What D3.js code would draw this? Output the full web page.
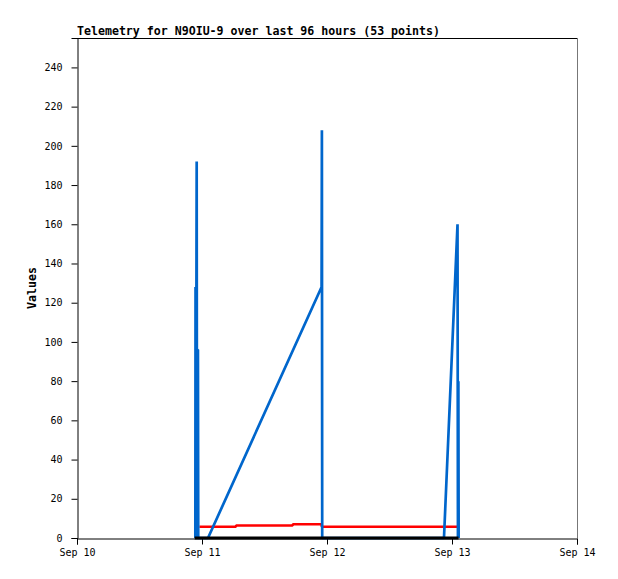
<!DOCTYPE html>
<html><head><meta charset="utf-8">
<script src="https://cdn.jsdelivr.net/npm/d3@7"></script>
<style>body{margin:0;background:#fff}svg{display:block}</style>
</head><body>
<script>
const title = "Telemetry for N9OIU-9 over last 96 hours (53 points)";
const yLabel = "Values";
const xTickLabels = ["Sep 10","Sep 11","Sep 12","Sep 13","Sep 14"];
const yTicks = [0,20,40,60,80,100,120,140,160,180,200,220,240];
// hours after Sep 10 00:00
const blueHours  = [22.72,22.76,22.82,22.98,23.04,23.10,23.22,23.28,23.34,25.15,46.96,47.02,47.08,70.46,73.06,73.14,73.22,73.28];
const blueValues = [0,    128,  0,    192,  0,    96,   96,   0,    0,    0,    128,  208,  0,    0,    160,  0,    80,   0];
const redHours   = [23.50,30.50,30.55,41.40,41.45,46.95,47.00,73.20];
const redValues  = [5.8,  5.8,  6.4,  6.4,  7.0,  7.0,  5.8,  5.8];
const blackHours = [22.60,73.25];
const blackValues= [0,0];

const W=618,H=579, m={l:77,r:41,t:38,b:41};
const iw=W-m.l-m.r, ih=H-m.t-m.b;
const t0=new Date(2023,8,10), t1=new Date(2023,8,14);
const toDate=h=>new Date(t0.getTime()+h*3600e3);
const x=d3.scaleTime().domain([t0,t1]).range([0,iw]);
const y=d3.scaleLinear().domain([0,255]).range([ih,0]);

const svg=d3.select("body").append("svg").attr("width",W).attr("height",H);
svg.append("text").attr("x",m.l).attr("y",35).text(title)
  .attr("font-family","DejaVu Sans Mono").attr("font-weight","bold").attr("font-size",11.6);
const g=svg.append("g").attr("transform",`translate(${m.l},${m.t})`);

g.append("line").attr("x1",0).attr("x2",iw).attr("y1",0.5).attr("y2",0.5).attr("stroke","#000");
g.append("line").attr("x1",iw+0.5).attr("x2",iw+0.5).attr("y1",0).attr("y2",ih).attr("stroke","#777");

const yAxis=d3.axisLeft(y).tickValues(yTicks).tickSize(6).tickPadding(9);
const ya=g.append("g").attr("transform","translate(0.5,0)").call(yAxis);
const xDates=xTickLabels.map((_,i)=>toDate(i*24));
const xAxis=d3.axisBottom(x).tickValues(xDates).tickFormat((d,i)=>xTickLabels[i]).tickSize(6).tickPadding(4);
const xa=g.append("g").attr("transform",`translate(0,${ih+0.5})`).call(xAxis);
[ya,xa].forEach(a=>{a.select(".domain").attr("stroke","#000");
  a.selectAll("text").attr("font-family","DejaVu Sans Mono").attr("font-size",10).attr("fill","#000");
  a.selectAll(".tick line").attr("stroke","#000");});

svg.append("text").attr("transform",`translate(36,${m.t+ih/2}) rotate(-90)`)
  .attr("text-anchor","middle").text(yLabel)
  .attr("font-family","DejaVu Sans Mono").attr("font-weight","bold").attr("font-size",11.6);

const line=d3.line().x(d=>x(toDate(d[0]))).y(d=>y(d[1]));
const series=[
  {h:redHours,v:redValues,c:"#FF0000",w:2.5},
  {h:blueHours,v:blueValues,c:"#0066CC",w:2.7},
  {h:blackHours,v:blackValues,c:"#000",w:3}
];
series.forEach(s=>{
  g.append("path").datum(s.h.map((h,i)=>[h,s.v[i]]))
   .attr("d",line).attr("fill","none").attr("stroke",s.c).attr("stroke-width",s.w)
   .attr("stroke-linejoin","miter").attr("stroke-miterlimit",1);
});
</script>
</body></html>
